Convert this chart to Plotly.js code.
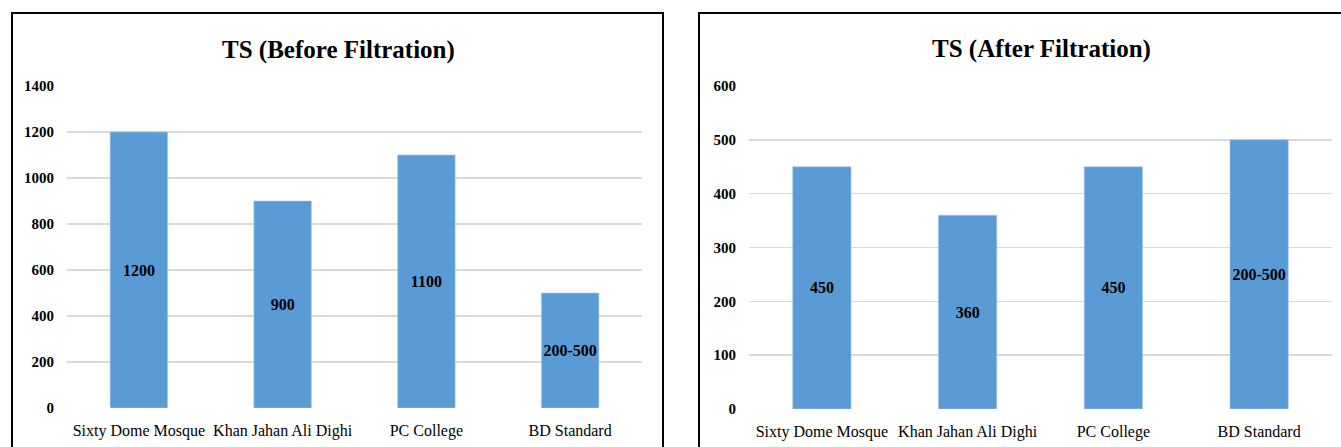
<!DOCTYPE html>
<html>
<head>
<meta charset="utf-8">
<script src="https://cdn.plot.ly/plotly-3.0.1.min.js"></script>
<style>
html,body{margin:0;padding:0;background:#fff;}
#chart{width:1341px;height:447px;}
</style>
</head>
<body>
<div id="chart"></div>
<script>
// ---- data ----
var categories = ["Sixty Dome Mosque", "Khan Jahan Ali Dighi", "PC College", "BD Standard"];
var beforeValues = [1200, 900, 1100, 500];
var beforeLabels = ["1200", "900", "1100", "200-500"];
var afterValues = [450, 360, 450, 500];
var afterLabels = ["450", "360", "450", "200-500"];
var titleBefore = "TS (Before Filtration)";
var titleAfter = "TS (After Filtration)";
var beforeTicks = [0, 200, 400, 600, 800, 1000, 1200, 1400];
var afterTicks = [0, 100, 200, 300, 400, 500, 600];

// ---- layout helpers ----
var W = 1341, H = 447;
function px(x){ return x / W; }
function py(y){ return (H - y) / H; }

var serif = "Liberation Serif, Times New Roman, serif";
var barColor = "#5B9BD5";
var gridColor = "#D9D9D9";

var traceStyle = {
  type: "bar",
  marker: {color: barColor, line: {color: "#A9C8E8", width: 0.6}},
  textposition: "inside",
  insidetextanchor: "middle",
  constraintext: "none",
  textangle: 0,
  textfont: {family: serif, size: 16, color: "#000", weight: "bold"},
  hoverinfo: "x+y",
  showlegend: false
};

var t1 = Object.assign({}, traceStyle, {
  x: categories, y: beforeValues, text: beforeLabels, xaxis: "x", yaxis: "y"
});
var t2 = Object.assign({}, traceStyle, {
  x: categories, y: afterValues, text: afterLabels, xaxis: "x2", yaxis: "y2"
});

function xAxis(d0, d1, anchor){
  return {
    domain: [px(d0), px(d1)], anchor: anchor,
    type: "category", showgrid: false, zeroline: false, showline: false,
    ticks: "", ticklabelstandoff: 11,
    tickfont: {family: serif, size: 16, color: "#000"},
    fixedrange: true
  };
}
function yAxis(top, bottom, anchor, range, tickvals){
  return {
    domain: [py(bottom), py(top)], anchor: anchor,
    range: range, tickvals: tickvals, ticktext: tickvals.map(String),
    showgrid: true, gridcolor: gridColor, gridwidth: 1.5,
    zeroline: false, showline: false, ticks: "",
    ticklabelstandoff: 12,
    tickfont: {family: serif, size: 15, color: "#000", weight: "bold"},
    fixedrange: true
  };
}

var layout = {
  width: W, height: H,
  margin: {l: 0, r: 0, t: 0, b: 0},
  paper_bgcolor: "#fff", plot_bgcolor: "#fff",
  bargap: 0.6,
  xaxis: xAxis(67, 642, "y"),
  yaxis: yAxis(86, 408, "x", [0, 1400], beforeTicks),
  xaxis2: xAxis(749, 1332, "y2"),
  yaxis2: yAxis(86, 409, "x2", [0, 600], afterTicks),
  annotations: [
    {text: titleBefore, xref: "paper", yref: "paper", x: px(338), y: py(50),
     xanchor: "center", yanchor: "middle", showarrow: false,
     font: {family: serif, size: 25, color: "#000", weight: "bold"}},
    {text: titleAfter, xref: "paper", yref: "paper", x: px(1041), y: py(49),
     xanchor: "center", yanchor: "middle", showarrow: false,
     font: {family: serif, size: 25, color: "#000", weight: "bold"}}
  ],
  shapes: [
    {type: "rect", xref: "paper", yref: "paper", x0: px(12), x1: px(663), y0: py(470), y1: py(13),
     line: {color: "#000", width: 2}, fillcolor: "rgba(0,0,0,0)", layer: "below"},
    {type: "rect", xref: "paper", yref: "paper", x0: px(699), x1: px(1370), y0: py(470), y1: py(13),
     line: {color: "#000", width: 2}, fillcolor: "rgba(0,0,0,0)", layer: "below"}
  ]
};

Plotly.newPlot("chart", [t1, t2], layout, {displayModeBar: false, staticPlot: true});
</script>
</body>
</html>
